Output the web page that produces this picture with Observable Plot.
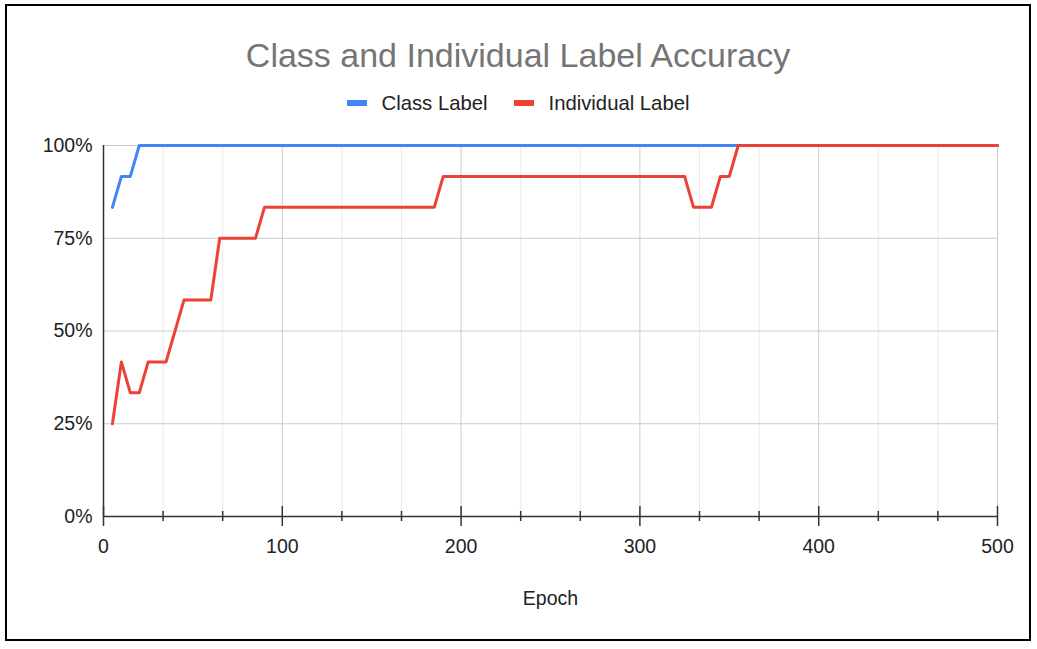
<!DOCTYPE html>
<html>
<head>
<meta charset="utf-8">
<script src="https://cdn.jsdelivr.net/npm/d3@7"></script>
<script src="https://cdn.jsdelivr.net/npm/@observablehq/plot@0.6"></script>
<style>
  body { margin: 0; background: #fff; font-family: Arial, "Liberation Sans", sans-serif; }
  #frame { position: absolute; left: 5px; top: 4px; width: 1026px; height: 637px; border: 2px solid #000; box-sizing: border-box; background: #fff; }
  #title { margin-top: 30px; height: 38px; line-height: 38px; text-align: center; font-size: 34px; color: #757575; }
  #legend { margin-top: 17px; height: 24px; line-height: 24px; display: flex; justify-content: center; align-items: center; font-size: 20.3px; color: #222; }
  .sw { display: inline-block; width: 20px; height: 6px; margin-right: 15px; }
  .item { display: flex; align-items: center; margin: 0 13px; }
  #chart svg { display: block; }
</style>
</head>
<body>
<div id="frame">
  <div id="title"></div>
  <div id="legend"></div>
  <div id="chart"></div>
</div>
<script>
const chartTitle = "Class and Individual Label Accuracy";
const seriesNames = ["Class Label", "Individual Label"];
const seriesColors = ["#4285f4", "#ea4335"];
const xLabel = "Epoch";

const classEpoch = [5, 10, 15, 20, 500];
const classAcc = [0.8333, 0.9167, 0.9167, 1, 1];

const indivEpoch = [5, 10, 15, 20, 25, 35, 45, 60, 65, 85, 90, 185, 190, 325, 330, 340, 345, 350, 355, 500];
const indivAcc = [0.25, 0.4167, 0.3333, 0.3333, 0.4167, 0.4167, 0.5833, 0.5833, 0.75, 0.75, 0.8333, 0.8333, 0.9167, 0.9167, 0.8333, 0.8333, 0.9167, 0.9167, 1, 1];

const xMajorTicks = [0, 100, 200, 300, 400, 500];
const xMinorTicks = [100/3, 200/3, 400/3, 500/3, 700/3, 800/3, 1000/3, 1100/3, 1300/3, 1400/3];
const yTicks = [0, 0.25, 0.5, 0.75, 1];

document.getElementById("title").textContent = chartTitle;
const legend = document.getElementById("legend");
seriesNames.forEach((name, i) => {
  const item = document.createElement("div");
  item.className = "item";
  const sw = document.createElement("span");
  sw.className = "sw";
  sw.style.background = seriesColors[i];
  const t = document.createElement("span");
  t.textContent = name;
  item.appendChild(sw); item.appendChild(t);
  legend.appendChild(item);
});

const classData = classEpoch.map((e, i) => ({epoch: e, acc: classAcc[i]}));
const indivData = indivEpoch.map((e, i) => ({epoch: e, acc: indivAcc[i]}));

const plot = Plot.plot({
  width: 1022,
  height: 524,
  marginLeft: 96,
  marginRight: 32,
  marginTop: 30,
  marginBottom: 123,
  style: { fontSize: "19.5px", fontFamily: "Arial, 'Liberation Sans', sans-serif", color: "#222", background: "transparent" },
  x: { domain: [0, 500] },
  y: { domain: [0, 1] },
  marks: [
    Plot.ruleX(xMinorTicks, { stroke: "#ebebeb", strokeWidth: 1 }),
    Plot.ruleX(xMajorTicks.slice(1), { stroke: "#cccccc", strokeWidth: 1 }),
    Plot.ruleY(yTicks.slice(1), { stroke: "#cccccc", strokeWidth: 1 }),
    Plot.lineY(classData, { x: "epoch", y: "acc", stroke: seriesColors[0], strokeWidth: 3 }),
    Plot.lineY(indivData, { x: "epoch", y: "acc", stroke: seriesColors[1], strokeWidth: 3 }),
    Plot.ruleY([0], { stroke: "#333", strokeWidth: 1.5 }),
    Plot.ruleX([0], { stroke: "#333", strokeWidth: 1.5 }),
    Plot.ruleX(xMinorTicks, { x: d => d, y1: 0, y2: 0, insetTop: -5, insetBottom: -5, stroke: "#333", strokeWidth: 1.5 }),
    Plot.ruleX(xMajorTicks, { x: d => d, y1: 0, y2: 0, insetTop: -10, insetBottom: -10, stroke: "#333", strokeWidth: 1.5 }),
    Plot.axisY({ ticks: yTicks, tickFormat: d3.format(".0%"), tickSize: 0, tickPadding: 11, label: null }),
    Plot.axisX({ ticks: xMajorTicks, tickSize: 0, tickPadding: 23, label: xLabel, labelAnchor: "center", labelOffset: 88, labelArrow: "none" })
  ]
});
document.getElementById("chart").appendChild(plot);
</script>
</body>
</html>
